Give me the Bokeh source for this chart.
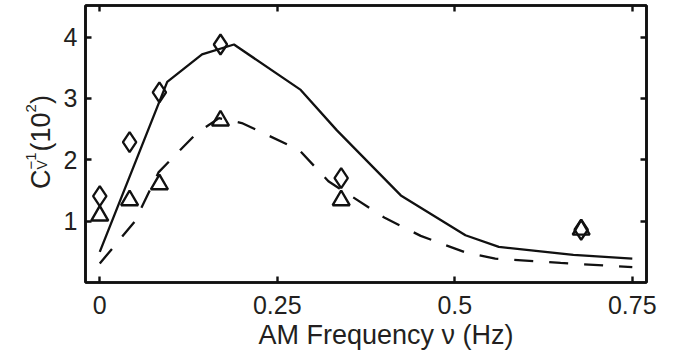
import math
from bokeh.plotting import figure
from bokeh.layouts import row
from bokeh.models import Range1d, LinearAxis, FixedTicker, Label, Title
from bokeh.embed import file_html
from bokeh.resources import INLINE

# ---------------- data ----------------
x_ticks = [0, 0.25, 0.5, 0.75]
x_tick_labels = ["0", "0.25", "0.5", "0.75"]
y_ticks = [1, 2, 3, 4]
y_tick_labels = ["1", "2", "3", "4"]

# solid model curve
solid_x = [0.0, 0.095, 0.144, 0.189, 0.283, 0.334, 0.424, 0.515, 0.562, 0.667, 0.75]
solid_y = [0.50, 3.27, 3.72, 3.88, 3.14, 2.48, 1.42, 0.77, 0.58, 0.45, 0.39]

# dashed model curve
dashed_x = [0.0, 0.049, 0.083, 0.137, 0.168, 0.20, 0.281, 0.322, 0.402, 0.452, 0.515, 0.557, 0.649, 0.75]
dashed_y = [0.31, 0.99, 1.80, 2.44, 2.68, 2.60, 2.16, 1.65, 1.05, 0.76, 0.49, 0.39, 0.32, 0.25]

# measured points
pts_x = [0.0, 0.042, 0.084, 0.170, 0.340, 0.678]
diamond_y = [1.41, 2.29, 3.10, 3.88, 1.70, 0.86]
triangle_y = [1.09, 1.34, 1.60, 2.64, 1.34, 0.86]

x_label = "AM Frequency \u03bd (Hz)"

# ---------------- style ----------------
FONT = "Liberation Sans"
TXT = "#231f20"
INK = "#111111"
H = 355
LW = 60          # width of the strip holding the y-axis title
FRAME_TOP, FRAME_BOTTOM = 5, 282

p = figure(width=674 - LW, height=H, output_backend="svg", toolbar_location=None,
           x_range=Range1d(-0.0201, 0.770), y_range=Range1d(0.0, 4.516),
           min_border_left=85 - LW, min_border_right=28,
           min_border_top=FRAME_TOP, min_border_bottom=H - FRAME_BOTTOM,
           background_fill_color="white", border_fill_color="white")
p.xgrid.visible = False
p.ygrid.visible = False
p.outline_line_color = INK
p.outline_line_width = 2.6

def style_axis(ax, ticks, labels=None, show_labels=True, standoff=8):
    ax.ticker = FixedTicker(ticks=ticks)
    ax.major_tick_in = 6
    ax.major_tick_out = 0
    ax.minor_tick_line_color = None
    ax.major_tick_line_width = 2.4
    ax.major_tick_line_color = INK
    ax.axis_line_width = 2.6
    ax.axis_line_color = INK
    if show_labels:
        ax.major_label_text_font = FONT
        ax.major_label_text_font_size = "25px"
        ax.major_label_text_color = TXT
        ax.major_label_standoff = standoff
        if labels is not None:
            ax.major_label_overrides = {t: l for t, l in zip(ticks, labels)}
    else:
        ax.major_label_text_font_size = "0px"
        ax.major_label_standoff = 0
        ax.major_label_text_color = None

style_axis(p.xaxis[0], x_ticks, x_tick_labels, standoff=13)
style_axis(p.yaxis[0], y_ticks, y_tick_labels, standoff=8)
top = LinearAxis()
style_axis(top, x_ticks, show_labels=False)
p.add_layout(top, "above")
right = LinearAxis()
style_axis(right, y_ticks, show_labels=False)
p.add_layout(right, "right")

# x-axis title, placed as a title below the axis
p.add_layout(Title(text=x_label, align="left", offset=173, standoff=2,
                   text_font=FONT, text_font_size="27px", text_font_style="normal",
                   text_color=TXT), "below")

# ---------------- marks ----------------
p.line(solid_x, solid_y, line_color=INK, line_width=2.3)
p.line(dashed_x, dashed_y, line_color=INK, line_width=2.3, line_dash="19 16")
p.scatter(pts_x, diamond_y, marker="diamond", size=20, fill_color=None,
          line_color=INK, line_width=2.3)
p.scatter(pts_x, triangle_y, marker="triangle", size=17, fill_color=None,
          line_color=INK, line_width=2.4)

# ---------------- y-axis title strip (sub/superscripts composed) ----------------
ylab = figure(width=LW, height=H, output_backend="svg", toolbar_location=None,
              x_axis_location=None, y_axis_location=None,
              min_border_left=0, min_border_right=0,
              min_border_top=FRAME_TOP, min_border_bottom=H - FRAME_BOTTOM,
              x_range=Range1d(0, LW), y_range=Range1d(0, 1))
ylab.outline_line_color = None
ylab.xgrid.visible = False
ylab.ygrid.visible = False

# positions given in page pixels; the strip's frame spans FRAME_TOP..FRAME_BOTTOM
def lab(text, px, py, size, angle=math.pi / 2):
    return Label(x=px, y=FRAME_BOTTOM - py, x_units="screen", y_units="screen",
                 text=text, angle=angle, text_font=FONT, text_font_size=f"{size}px",
                 text_align="left", text_baseline="alphabetic", text_color=TXT)

ylab.add_layout(lab("C", 40.5, 188.5, 27))
ylab.add_layout(lab("V", 41.5, 169, 14))
ylab.add_layout(lab("\u22121", 30.5, 169, 15))
ylab.add_layout(lab("(10", 40.5, 151, 27))
ylab.add_layout(lab("2", 30.5, 112, 15))
ylab.add_layout(lab(")", 40.5, 103.5, 27))

layout = row(ylab, p)
open("out.html", "w").write(file_html(layout, INLINE))
